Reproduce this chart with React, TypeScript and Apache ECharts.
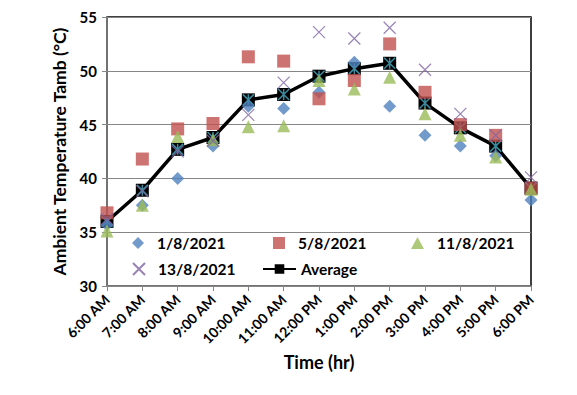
import React, { useEffect, useRef } from "react";
import * as echarts from "echarts";

const categories = ["6:00 AM", "7:00 AM", "8:00 AM", "9:00 AM", "10:00 AM", "11:00 AM", "12:00 PM", "1:00 PM", "2:00 PM", "3:00 PM", "4:00 PM", "5:00 PM", "6:00 PM"];
const day1 = [35.7, 37.5, 40.0, 43.0, 46.7, 46.5, 48.0, 50.8, 46.7, 44.0, 43.0, 42.1, 38.0];
const day5 = [36.8, 41.8, 44.6, 45.1, 51.3, 50.9, 47.4, 49.1, 52.5, 48.0, 45.0, 44.0, 39.1];
const day11 = [35.1, 37.5, 43.9, 43.6, 44.8, 44.9, 49.1, 48.3, 49.4, 46.0, 44.0, 42.0, 39.0];
const day13 = [36.2, 38.8, 42.5, 43.5, 45.9, 48.9, 53.6, 53.0, 54.0, 50.1, 46.0, 44.0, 40.1];
const average = [36.0, 38.9, 42.7, 43.8, 47.3, 47.8, 49.5, 50.2, 50.7, 47.0, 44.7, 43.0, 39.1];
const yTicks = { min: 30, max: 55, interval: 5 };

const FONT = "Lato";
const X_PATH = "path://M0,0L10,10M10,0L0,10";
const STAR_PATH = "path://M0,0L10,10M10,0L0,10M5,0L5,10";

export default function App() {
  const ref = useRef<HTMLDivElement>(null);
  useEffect(() => {
    const chart = echarts.init(ref.current!, null, { renderer: "svg" });
    const legendText = { fontFamily: FONT, fontWeight: "bold", fontSize: 15.5, color: "#000", padding: [0, 0, 0, 8] };
    const mkLegend = (name: string, left: number, top: number, w: number) => ({
      data: [name],
      left,
      top,
      itemWidth: w,
      itemHeight: 12,
      textStyle: legendText,
      selectedMode: false,
      padding: 0,
    });
    chart.setOption({
      animation: false,
      backgroundColor: "#fff",
      grid: { left: 107, top: 17, right: 46, bottom: 109, show: true, borderColor: "#000", borderWidth: 1.5 },
      legend: [
        mkLegend("1/8/2021", 132, 235, 12),
        mkLegend("5/8/2021", 273, 235, 12),
        mkLegend("11/8/2021", 411, 235, 13),
        mkLegend("13/8/2021", 132, 261, 12),
        { ...mkLegend("Average", 262, 261, 33), textStyle: { ...legendText, padding: [0, 0, 0, 0] } },
      ],
      xAxis: {
        type: "category",
        data: categories,
        boundaryGap: false,
        axisLine: { lineStyle: { color: "#868686", width: 1.5 } },
        axisTick: { show: true, length: 5, lineStyle: { color: "#868686" } },
        axisLabel: { rotate: 45, margin: 11, fontFamily: FONT, fontWeight: "bold", fontSize: 14, color: "#000" },
        splitLine: { show: false },
        name: "Time (hr)",
        nameLocation: "middle",
        nameGap: 64,
        nameTextStyle: { fontFamily: FONT, fontWeight: "bold", fontSize: 18, color: "#000" },
      },
      yAxis: {
        type: "value",
        min: yTicks.min,
        max: yTicks.max,
        interval: yTicks.interval,
        axisLine: { show: true, lineStyle: { color: "#868686", width: 1.5 } },
        axisTick: { show: true, length: 5, lineStyle: { color: "#868686" } },
        axisLabel: { margin: 10, fontFamily: FONT, fontWeight: "bold", fontSize: 15, color: "#000" },
        splitLine: { show: true, lineStyle: { color: "#868686", width: 1 } },
        name: "Ambient Temperature Tamb (°C)",
        nameLocation: "middle",
        nameGap: 34,
        nameTextStyle: { fontFamily: FONT, fontWeight: "bold", fontSize: 17.5, color: "#000" },
      },
      series: [
        {
          name: "Average",
          type: "line",
          data: average,
          symbol: "rect",
          symbolSize: 13,
          itemStyle: { color: "#000" },
          lineStyle: { color: "#000", width: 3.5 },
          z: 2,
        },
        {
          name: "avgStar",
          type: "scatter",
          data: average,
          symbol: STAR_PATH,
          symbolSize: 11,
          itemStyle: { color: "transparent", borderColor: "#4BACC6", borderWidth: 1.5 },
          z: 3,
        },
        {
          name: "1/8/2021",
          type: "scatter",
          data: day1,
          symbol: "diamond",
          symbolSize: 13,
          itemStyle: { color: "#4F81BD" },
          z: 4,
        },
        {
          name: "5/8/2021",
          type: "scatter",
          data: day5,
          symbol: "rect",
          symbolSize: 13,
          itemStyle: { color: "#C0504D" },
          z: 4,
        },
        {
          name: "11/8/2021",
          type: "scatter",
          data: day11,
          symbol: "triangle",
          symbolSize: 13,
          itemStyle: { color: "#9BBB59" },
          z: 4,
        },
        {
          name: "13/8/2021",
          type: "scatter",
          data: day13,
          symbol: X_PATH,
          symbolSize: 12,
          itemStyle: { color: "transparent", borderColor: "#8064A2", borderWidth: 1.2 },
          z: 4,
        },
      ],
    });
    return () => chart.dispose();
  }, []);
  return <div ref={ref} style={{ position: "fixed", left: 0, top: 0, width: 577, height: 395 }} />;
}
